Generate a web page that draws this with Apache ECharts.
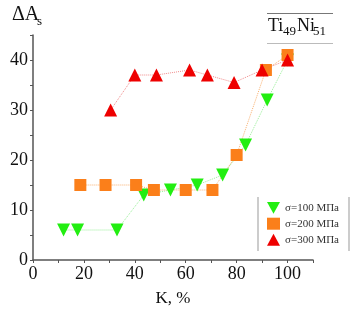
<!DOCTYPE html>
<html>
<head>
<meta charset="utf-8">
<script src="https://cdn.jsdelivr.net/npm/echarts@6/dist/echarts.min.js"></script>
<style>
  html, body { margin: 0; padding: 0; background: #fff; }
  #chart { width: 356px; height: 312px; }
</style>
</head>
<body>
<div id="chart"></div>
<script>
// K, % and dA_s
var k100 = [12, 17.5, 33, 43.5, 54, 64.5, 74.5, 83.5, 92, 100];
var a100 = [6, 6, 6, 13, 14, 15, 17, 23, 32, 40];

var k200 = [18.6, 28.5, 40.5, 47.5, 60, 70.5, 80, 91.5, 100];
var a200 = [15, 15, 15, 14, 14, 14, 21, 38, 41];

var k300 = [30.5, 40, 48.5, 61.5, 68.5, 79, 90, 100];
var a300 = [30, 37, 37, 38, 37, 35.5, 38, 40];

var seriesNames = ['σ=100 МПа', 'σ=200 МПа', 'σ=300 МПа'];

function pairs(xs, ys) {
    return xs.map(function (x, i) { return [x, ys[i]]; });
}

var font = '"Liberation Serif", serif';
var chart = echarts.init(document.getElementById('chart'));

var downTri = 'path://M0,0L10,0L5,9Z';

function txt(str, x, y, size) {
    return {
        type: 'text', left: x, top: y,
        style: { text: str, fontFamily: font, fontSize: size, fill: '#111' }
    };
}

var option = {
    animation: false,
    textStyle: { fontFamily: font },
    grid: { left: 33, right: 43, top: 35, bottom: 52 },
    xAxis: {
        type: 'value',
        min: 0, max: 110, interval: 20,
        name: 'K, %',
        nameLocation: 'middle',
        nameGap: 30,
        nameTextStyle: { fontFamily: font, fontSize: 17, color: '#111' },
        axisLine: { lineStyle: { color: '#555', width: 1.5 } },
        axisTick: { show: true, length: 3, lineStyle: { color: '#555' } },
        minorTick: { show: true, splitNumber: 2, length: 3, lineStyle: { color: '#555' } },
        axisLabel: {
            fontFamily: font, fontSize: 18, color: '#111', margin: 5,
            formatter: function (v) { return v > 100 ? '' : v; }
        },
        splitLine: { show: false }
    },
    yAxis: {
        type: 'value',
        min: 0, max: 45, interval: 10,
        axisLine: { show: true, lineStyle: { color: '#555', width: 1.5 } },
        axisTick: { show: true, length: 3, lineStyle: { color: '#555' } },
        minorTick: { show: true, splitNumber: 2, length: 3, lineStyle: { color: '#555' } },
        axisLabel: {
            fontFamily: font, fontSize: 18, color: '#111', margin: 5,
            formatter: function (v) { return v > 40 ? '' : v; }
        },
        splitLine: { show: false }
    },
    legend: {
        orient: 'vertical',
        left: 262, top: 197,
        itemWidth: 13, itemHeight: 12, itemGap: 4,
        textStyle: { fontFamily: font, fontSize: 11, color: '#333' },
        data: [
            { name: seriesNames[0], icon: downTri },
            { name: seriesNames[1], icon: 'rect' },
            { name: seriesNames[2], icon: 'triangle' }
        ]
    },
    graphic: [
        { type: 'line', shape: { x1: 258, y1: 197, x2: 258, y2: 251 }, style: { stroke: '#999', lineWidth: 1 } },
        { type: 'line', shape: { x1: 349, y1: 197, x2: 349, y2: 251 }, style: { stroke: '#999', lineWidth: 1 } },
        { type: 'line', shape: { x1: 267, y1: 13.5, x2: 333, y2: 13.5 }, style: { stroke: '#777', lineWidth: 1 } },
        { type: 'line', shape: { x1: 267, y1: 43.5, x2: 333, y2: 43.5 }, style: { stroke: '#bbb', lineWidth: 1 } },
        txt('Ti', 268, 17, 18),
        txt('49', 283, 25, 13),
        txt('Ni', 297, 17, 18),
        txt('51', 313, 25, 13),
        txt('ΔA', 12, 5, 20),
        txt('s', 37, 15, 13)
    ],
    series: [
        {
            name: seriesNames[0],
            type: 'line',
            data: pairs(k100, a100),
            symbol: 'triangle', symbolRotate: 180, symbolSize: 13,
            itemStyle: { color: '#22ee11' },
            lineStyle: { color: '#99ee99', width: 1, type: 'dotted' }
        },
        {
            name: seriesNames[1],
            type: 'line',
            data: pairs(k200, a200),
            symbol: 'rect', symbolSize: 12,
            itemStyle: { color: '#fb7f1a' },
            lineStyle: { color: '#f8b070', width: 1, type: 'dotted' }
        },
        {
            name: seriesNames[2],
            type: 'line',
            data: pairs(k300, a300),
            symbol: 'triangle', symbolSize: 13,
            itemStyle: { color: '#ee0000' },
            lineStyle: { color: '#f08a8a', width: 1, type: 'dotted' }
        }
    ]
};

chart.setOption(option);
</script>
</body>
</html>
